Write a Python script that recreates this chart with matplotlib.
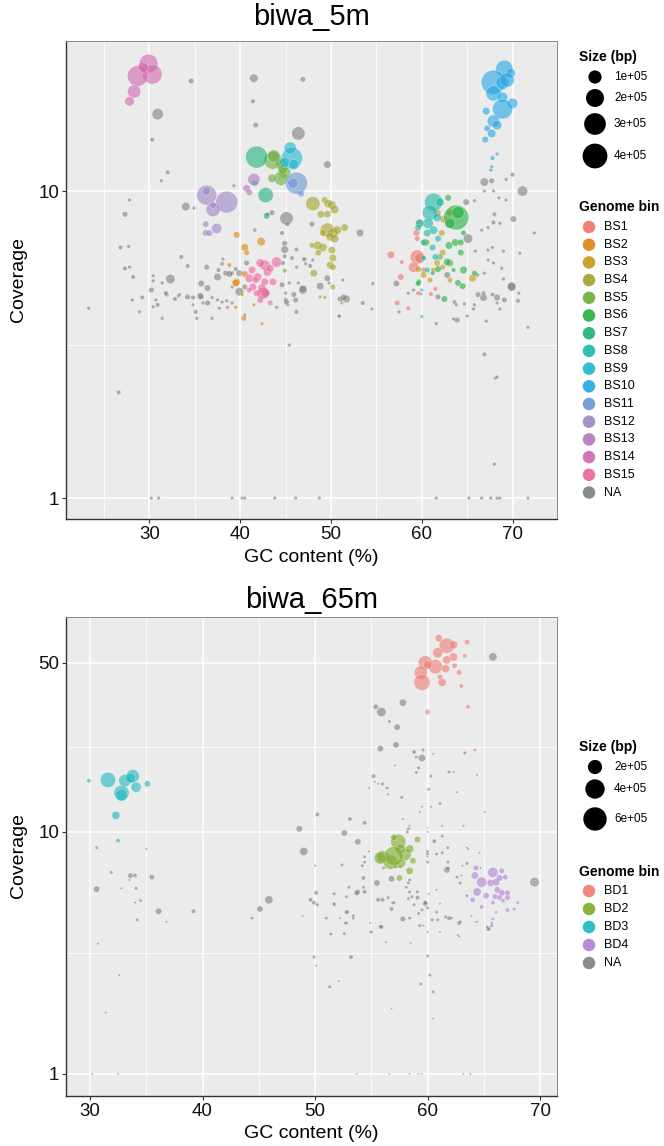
import matplotlib
matplotlib.use("Agg")
import matplotlib.pyplot as plt
import numpy as np
from matplotlib.ticker import FixedLocator, NullFormatter

plt.rcParams['font.family'] = ['Liberation Sans', 'DejaVu Sans']

# ---------------- DATA: biwa_5m  (gc %, coverage, size in kbp) ----------------
top_bins = ["BS1", "BS2", "BS3", "BS4", "BS5", "BS6", "BS7", "BS8", "BS9", "BS10",
            "BS11", "BS12", "BS13", "BS14", "BS15", "NA"]
top_colors = ["#EB7468", "#DE8410", "#C49A14", "#A3A22C", "#6AAC3A", "#22AF3F", "#1DB37B",
              "#1BB8A8", "#1DB6CE", "#22A6E4", "#6A95D4", "#9E85C6", "#B377B8", "#D067AE",
              "#EC649C", "#7F7F7F"]

BS1 = [(59.5, 6.1, 117), (59.8, 6.05, 56), (59.1, 5.65, 56), (56.6, 6.2, 25), (57.8, 5.87, 6),
       (57.7, 5.25, 17), (57.3, 4.32, 11), (58.5, 4.15, 6), (59.6, 4.65, 6), (61.5, 4.8, 6),
       (61.0, 4.62, 6), (59.4, 7.3, 17), (59.5, 7.0, 11), (60.2, 5.53, 11)]
BS2 = [(39.6, 7.2, 17), (40.5, 6.55, 25), (42.3, 6.85, 34), (40.7, 6.3, 11), (38.8, 5.74, 6),
       (39.6, 5.06, 25), (40.5, 5.37, 17), (40.2, 4.6, 3), (39.5, 4.18, 3), (41.5, 4.26, 3),
       (40.4, 3.85, 11), (42.4, 3.7, 3), (39.5, 5.02, 25)]
BS3 = [(61.7, 8.5, 25), (62.4, 8.1, 25), (62.2, 7.3, 17), (63.1, 8.5, 17), (60.6, 6.8, 11),
       (62.3, 6.3, 17), (61.7, 5.83, 17), (62.3, 5.65, 11), (61.3, 5.53, 11), (60.2, 5.33, 17),
       (59.6, 5.57, 17), (65.6, 5.2, 25), (59.7, 7.85, 25), (63.1, 5.13, 11), (60.9, 5.13, 11)]
BS4 = [(48.0, 9.1, 117), (49.3, 9.35, 17), (49.7, 9.1, 34), (50.1, 9.0, 34), (50.4, 8.7, 34),
       (49.6, 8.4, 25), (48.9, 8.4, 25), (49.6, 7.46, 117), (50.2, 7.3, 56), (50.7, 7.46, 34),
       (51.5, 7.6, 25), (49.1, 7.3, 17), (49.9, 7.1, 34), (50.4, 7.0, 34), (48.5, 6.65, 34),
       (49.1, 6.55, 34), (50.1, 6.42, 25), (48.6, 6.3, 17), (47.9, 6.65, 11), (50.2, 6.05, 25),
       (49.9, 5.74, 25), (50.2, 5.65, 17), (48.1, 5.4, 25), (48.8, 4.52, 3), (49.3, 4.5, 3),
       (50.2, 4.87, 11), (51.2, 4.32, 3)]
BS5 = [(43.6, 12.6, 200), (44.9, 11.5, 84), (44.5, 11.0, 117), (43.5, 11.0, 34), (44.4, 12.3, 56),
       (44.7, 11.8, 56), (43.7, 13.0, 84), (44.9, 5.5, 6), (60.4, 6.8, 25), (63.1, 5.83, 25),
       (62.0, 6.1, 17)]
BS6 = [(63.8, 8.2, 400), (64.0, 8.5, 84), (63.1, 7.85, 56), (63.0, 6.65, 25), (63.7, 6.8, 25),
       (64.3, 6.8, 17), (64.3, 6.3, 17), (64.6, 7.3, 11), (62.9, 9.5, 17), (64.6, 5.53, 25),
       (64.0, 5.02, 17), (64.5, 4.9, 17), (62.8, 5.87, 25), (63.5, 5.53, 6), (62.5, 4.45, 17),
       (61.2, 5.4, 6), (59.7, 5.06, 11), (61.8, 5.57, 17), (65.8, 5.4, 11), (59.6, 5.0, 11)]
BS7 = [(41.8, 12.9, 306), (42.8, 9.7, 136), (42.9, 8.3, 17)]
BS8 = [(61.3, 9.2, 200), (62.0, 9.2, 34), (60.9, 8.5, 136), (61.7, 8.2, 34), (60.7, 7.85, 56),
       (59.8, 7.85, 34), (61.3, 7.46, 34), (60.6, 7.3, 25), (61.8, 7.0, 17), (61.2, 6.55, 17),
       (61.5, 6.1, 17), (60.2, 6.05, 11), (60.6, 5.53, 11), (59.6, 7.6, 17), (60.2, 6.8, 17),
       (41.6, 10.6, 17)]
BS9 = [(45.7, 12.8, 278), (45.5, 13.8, 84), (44.9, 12.4, 56), (45.9, 12.2, 56),
       (60.0, 4.76, 3), (60.0, 3.9, 3)]
BS10 = [(69.1, 25.0, 178), (67.9, 22.6, 380), (68.9, 22.5, 100), (67.9, 20.8, 136), (68.9, 20.2, 56),
        (70.0, 19.3, 56), (68.9, 18.5, 250), (67.9, 16.9, 84), (68.3, 16.4, 44), (67.1, 18.2, 25),
        (67.2, 16.0, 17), (67.7, 15.4, 34), (67.0, 14.7, 17), (67.8, 12.8, 6), (68.3, 13.2, 3),
        (67.7, 12.0, 3), (69.8, 24.2, 44), (69.4, 23.0, 120)]
BS11 = [(46.2, 10.6, 306), (45.8, 10.6, 56), (46.7, 9.8, 17)]
BS12 = [(36.3, 9.7, 250), (38.5, 9.2, 306), (36.3, 10.0, 34), (37.0, 8.7, 117), (37.0, 9.0, 17),
        (36.2, 7.8, 17), (37.4, 7.55, 56), (36.2, 7.3, 17), (36.6, 7.3, 17)]
BS13 = [(41.5, 10.9, 84), (40.7, 10.2, 25), (41.0, 9.9, 17), (41.6, 7.46, 6), (38.0, 5.8, 6)]
BS14 = [(29.9, 26.0, 220), (30.3, 24.0, 240), (28.7, 23.7, 270), (29.3, 25.3, 56),
        (28.3, 21.1, 100), (27.8, 19.6, 45)]
BS15 = [(42.7, 5.74, 56), (42.2, 5.83, 34), (43.0, 5.45, 34), (44.0, 5.87, 56), (41.3, 5.53, 25),
        (41.0, 5.2, 34), (41.9, 5.25, 34), (42.7, 5.06, 25), (41.4, 4.87, 25), (42.4, 4.83, 34),
        (42.8, 4.65, 34), (41.8, 4.65, 17), (43.6, 5.06, 25), (43.3, 4.32, 11), (42.2, 4.42, 17),
        (41.0, 4.76, 11), (42.5, 4.65, 84), (41.7, 5.13, 17), (43.3, 5.6, 25)]
NA_top = [(34.6, 22.8, 11), (41.5, 23.3, 34), (46.9, 23.1, 11), (41.4, 19.6, 6), (30.9, 17.8, 69),
          (41.7, 16.4, 11), (46.4, 15.4, 100), (30.3, 14.7, 6), (49.6, 12.2, 25), (32.0, 11.5, 6),
          (31.3, 10.8, 3), (39.3, 10.4, 3), (34.0, 8.9, 34), (27.8, 9.35, 3), (27.3, 8.4, 11),
          (34.9, 8.8, 3), (45.1, 8.15, 100), (45.2, 7.8, 6), (43.0, 8.4, 6), (53.2, 7.3, 25),
          (26.8, 6.55, 6), (27.7, 6.6, 3), (27.3, 5.6, 6), (27.8, 5.65, 3), (28.2, 5.25, 6),
          (30.4, 5.3, 3), (30.4, 5.1, 3), (32.3, 5.17, 44), (33.5, 6.1, 6), (34.2, 5.7, 6),
          (36.3, 5.65, 11), (38.1, 6.0, 3), (38.4, 5.4, 11), (39.1, 5.4, 6), (37.5, 5.25, 25),
          (44.9, 6.75, 11), (44.9, 6.45, 25), (46.2, 6.45, 6), (44.7, 5.83, 6), (47.1, 6.0, 6),
          (47.7, 5.7, 6), (49.6, 5.2, 17), (51.3, 5.13, 3), (54.6, 5.0, 3), (66.9, 10.7, 34),
          (67.7, 10.8, 11), (67.6, 11.7, 3), (67.9, 10.0, 3), (69.3, 10.9, 3), (70.0, 11.3, 6),
          (71.1, 10.0, 56), (66.9, 10.0, 3), (64.9, 9.2, 17), (65.8, 9.3, 3), (68.5, 9.5, 3),
          (69.3, 9.35, 3), (68.0, 8.4, 6), (70.1, 8.1, 17), (67.9, 7.9, 6), (68.6, 7.85, 3),
          (66.6, 7.46, 3), (67.3, 7.6, 3), (72.4, 7.3, 3), (65.1, 7.0, 44), (67.3, 6.42, 3),
          (67.8, 6.55, 3), (69.0, 6.37, 3), (70.8, 6.27, 3), (65.9, 6.37, 3), (67.3, 5.96, 3),
          (67.9, 5.83, 3), (66.9, 5.4, 3), (68.8, 5.6, 3), (69.0, 5.17, 3), (69.9, 4.9, 34),
          (62.8, 5.33, 17), (66.1, 5.33, 6), (23.3, 4.15, 3), (28.1, 4.42, 3), (29.2, 4.5, 6),
          (28.9, 4.04, 3), (30.2, 4.76, 11), (30.4, 4.2, 3), (30.9, 4.26, 6), (30.7, 4.42, 3),
          (31.4, 3.85, 3), (31.9, 4.6, 6), (32.8, 4.45, 6), (33.2, 4.55, 3), (34.8, 4.5, 6),
          (34.8, 4.26, 3), (35.1, 4.04, 6), (35.7, 4.52, 11), (36.4, 4.32, 11), (36.9, 3.85, 3),
          (37.5, 4.42, 3), (37.7, 4.15, 3), (38.5, 4.39, 3), (38.6, 4.18, 3), (39.9, 4.7, 34),
          (40.5, 3.95, 3), (45.0, 4.42, 6), (45.2, 4.26, 3), (46.2, 4.04, 6), (46.1, 4.42, 11),
          (46.9, 4.76, 34), (48.8, 4.9, 25), (50.9, 3.9, 3), (51.0, 4.45, 11), (51.7, 4.45, 25),
          (53.5, 4.32, 6), (54.5, 4.13, 3), (57.2, 5.0, 17), (57.5, 4.04, 3), (58.5, 4.65, 3),
          (59.1, 4.76, 3), (59.9, 4.62, 3), (61.6, 3.7, 3), (61.8, 4.52, 11), (63.5, 3.83, 3),
          (63.9, 3.8, 11), (63.6, 4.35, 6), (63.8, 4.26, 3), (65.0, 3.92, 3), (64.7, 4.29, 3),
          (65.7, 4.13, 3), (65.8, 4.26, 3), (66.2, 4.6, 11), (66.8, 4.5, 25), (67.1, 3.77, 3),
          (66.8, 4.65, 6), (67.8, 4.6, 6), (68.3, 4.5, 17), (68.3, 4.32, 3), (68.6, 4.13, 3),
          (69.1, 4.42, 11), (69.9, 4.87, 34), (70.6, 4.39, 6), (70.7, 4.65, 3), (71.7, 3.6, 3),
          (45.4, 3.15, 3), (66.9, 2.94, 6), (68.1, 2.46, 3), (68.3, 2.48, 3), (26.6, 2.21, 6),
          (68.0, 1.29, 3), (43.5, 8.5, 11), (47.9, 7.8, 11), (37.6, 5.53, 6), (38.8, 5.37, 17),
          (39.9, 5.4, 17), (39.5, 5.57, 6), (40.7, 5.83, 11), (45.7, 6.05, 6), (47.0, 6.0, 3),
          (47.2, 5.8, 3), (46.2, 5.65, 3), (44.9, 6.13, 6), (44.6, 7.3, 6), (48.0, 5.96, 3),
          (49.8, 5.02, 3), (46.9, 4.8, 25), (46.4, 5.02, 3), (45.4, 5.02, 3), (44.6, 4.95, 11),
          (45.0, 4.65, 3), (45.9, 4.6, 11), (45.1, 4.35, 11), (44.0, 4.18, 3), (43.0, 4.65, 11),
          (40.5, 4.87, 11), (39.1, 4.87, 3), (35.7, 5.0, 17), (36.4, 4.83, 17), (34.2, 4.52, 11),
          (35.6, 4.55, 17), (35.9, 4.32, 3), (36.9, 4.5, 3), (38.0, 4.35, 3), (39.1, 4.32, 3),
          (31.4, 5.02, 3), (31.8, 4.65, 6), (33.3, 4.6, 3), (35.2, 3.85, 3), (51.4, 4.5, 17),
          (50.9, 3.92, 3),
          (30.2, 1.0, 3), (31.0, 1.0, 3), (39.1, 1.0, 3), (40.2, 1.0, 3), (40.5, 1.0, 3),
          (43.8, 1.0, 3), (46.1, 1.0, 3), (48.7, 1.0, 3), (61.6, 1.0, 3), (65.2, 1.0, 3),
          (66.6, 1.0, 3), (67.6, 1.0, 3), (68.3, 1.0, 3), (68.6, 1.0, 3), (71.7, 1.0, 3)]
top_points = [BS1, BS2, BS3, BS4, BS5, BS6, BS7, BS8, BS9, BS10, BS11, BS12, BS13, BS14, BS15, NA_top]
top_size_breaks = [100, 200, 300, 400]
top_size_labels = ["1e+05", "2e+05", "3e+05", "4e+05"]

# ---------------- DATA: biwa_65m ----------------
bot_bins = ["BD1", "BD2", "BD3", "BD4", "NA"]
bot_colors = ["#EE7B72", "#7CAA2A", "#1BB8BE", "#B07FD6", "#7F7F7F"]

BD1 = [(61.0, 63.2, 40), (61.7, 58.8, 232), (62.3, 59.3, 55), (63.5, 60.9, 17), (60.9, 55.0, 93),
       (62.3, 52.9, 55), (63.3, 53.4, 9), (59.8, 50.0, 199), (60.7, 48.2, 199), (61.7, 51.4, 55),
       (60.0, 49.0, 55), (61.6, 47.3, 55), (62.4, 48.6, 17), (59.4, 45.6, 169), (59.5, 41.5, 267),
       (61.1, 43.7, 17), (61.3, 41.5, 55), (62.8, 45.6, 17), (63.0, 40.1, 9), (60.0, 31.3, 17),
       (63.6, 32.9, 9), (64.2, 21.8, 3.6), (60.0, 10.4, 0.6)]
BD2 = [(57.4, 9.1, 232), (56.0, 7.9, 141), (56.7, 7.5, 199), (58.0, 8.05, 141), (58.4, 8.5, 55),
       (57.6, 8.5, 93), (57.7, 7.45, 55), (59.1, 9.3, 27), (57.0, 9.5, 27), (58.7, 7.6, 27),
       (58.4, 6.9, 40), (57.5, 6.45, 27), (57.3, 7.3, 27), (57.6, 7.2, 9), (57.1, 7.2, 9),
       (57.0, 7.95, 380), (55.8, 7.8, 141)]
BD3 = [(31.6, 16.4, 232), (33.1, 16.3, 141), (33.8, 17.0, 169), (33.6, 16.7, 93), (34.1, 15.3, 93),
       (32.8, 14.5, 232), (32.8, 14.2, 141), (29.9, 16.3, 9), (35.1, 15.8, 27), (32.3, 11.7, 55),
       (32.5, 9.2, 9)]
BD4 = [(65.8, 6.8, 93), (64.8, 6.2, 93), (64.2, 6.6, 40), (64.3, 7.1, 17), (64.4, 5.65, 55),
       (65.2, 5.45, 27), (65.6, 6.15, 40), (66.1, 6.2, 40), (66.4, 6.45, 27), (66.6, 6.9, 17),
       (66.9, 6.5, 17), (66.2, 5.76, 27), (66.6, 5.6, 27), (67.1, 5.6, 17), (67.1, 5.35, 17),
       (66.0, 5.4, 17), (66.4, 5.35, 17), (64.0, 5.24, 17), (64.8, 4.9, 9), (65.8, 5.1, 9),
       (66.7, 5.2, 9), (68.0, 5.1, 3.6), (67.1, 4.76, 9), (67.7, 4.8, 3.6), (66.1, 4.66, 3.6),
       (65.8, 4.37, 3.6), (65.7, 4.2, 3.6), (64.3, 4.25, 0.6), (65.3, 4.05, 3.6), (69.5, 6.2, 3.6)]
NA_bot = [(65.8, 52.9, 55), (55.4, 32.9, 17), (55.9, 31.3, 73), (57.8, 34.2, 40), (56.6, 28.6, 3.6),
          (57.3, 27.1, 27), (55.8, 22.1, 27), (57.2, 22.9, 27), (58.8, 21.4, 9), (59.6, 21.8, 3.6),
          (59.5, 20.2, 40), (59.0, 20.4, 3.6), (60.5, 21.0, 0.6), (59.2, 18.4, 3.6), (59.0, 17.6, 3.6),
          (57.1, 18.8, 0.6), (55.2, 17.0, 9), (55.3, 16.1, 0.6), (55.6, 15.8, 0.6), (56.0, 15.8, 3.6),
          (56.4, 15.2, 3.6), (54.8, 15.2, 0.6), (56.5, 14.3, 0.6), (57.7, 13.9, 3.6), (60.1, 15.0, 3.6),
          (60.3, 17.0, 3.6), (61.9, 17.7, 3.6), (62.3, 17.7, 0.6), (63.3, 21.2, 3.6), (64.4, 17.2, 0.6),
          (62.6, 14.6, 0.6), (61.1, 13.1, 3.6), (59.5, 12.7, 0.6), (59.3, 12.1, 0.6), (60.3, 12.7, 0.6),
          (57.8, 11.3, 0.6), (58.4, 10.6, 0.6), (58.3, 10.3, 3.6), (58.2, 10.0, 3.6), (65.1, 12.1, 0.6),
          (63.2, 10.6, 0.6), (61.3, 10.6, 0.6), (60.0, 10.0, 0.6), (50.2, 11.8, 9), (53.1, 11.3, 9),
          (54.4, 10.9, 9), (48.6, 10.3, 27), (52.6, 9.9, 27), (53.8, 9.1, 27), (49.0, 8.3, 55),
          (30.6, 8.6, 3.6), (35.0, 8.5, 0.6), (60.6, 9.15, 9), (61.8, 8.6, 3.6), (63.6, 8.5, 0.6),
          (64.6, 8.2, 0.6), (61.3, 9.6, 3.6), (60.0, 8.3, 3.6), (60.0, 7.9, 0.6), (52.4, 7.3, 3.6),
          (54.3, 6.45, 9), (55.5, 6.15, 27), (56.8, 6.4, 27), (54.4, 7.9, 3.6), (54.4, 7.5, 3.6),
          (54.8, 8.3, 0.6), (51.7, 5.55, 3.6), (52.8, 5.4, 3.6), (53.8, 5.65, 17), (54.3, 5.9, 3.6),
          (55.6, 5.24, 9), (56.0, 5.24, 9), (56.5, 5.35, 3.6), (56.9, 5.1, 3.6), (56.8, 4.8, 9),
          (58.6, 5.4, 3.6), (59.1, 5.65, 3.6), (59.1, 5.35, 9), (59.8, 5.05, 17), (60.0, 4.85, 3.6),
          (58.1, 5.9, 3.6), (58.3, 6.15, 3.6), (58.4, 6.33, 3.6), (60.1, 5.55, 0.6), (60.8, 5.76, 0.6),
          (61.7, 6.97, 27), (62.6, 6.5, 3.6), (62.9, 6.15, 3.6), (63.5, 5.45, 3.6), (60.0, 8.1, 3.6),
          (60.0, 7.5, 3.6), (60.8, 8.1, 3.6), (61.3, 8.2, 3.6), (61.8, 7.5, 3.6), (63.5, 7.4, 3.6),
          (63.1, 7.25, 0.6), (63.5, 8.6, 0.6), (64.7, 7.1, 0.6), (62.8, 4.2, 9), (61.9, 4.4, 9),
          (61.6, 4.45, 3.6), (60.9, 4.33, 3.6), (60.4, 4.33, 3.6), (60.8, 4.66, 3.6), (59.3, 4.1, 3.6),
          (58.4, 4.4, 3.6), (57.8, 4.37, 17), (51.7, 5.0, 3.6), (52.9, 4.66, 3.6), (53.4, 4.4, 3.6),
          (52.2, 4.4, 0.6), (52.7, 4.2, 3.6), (54.9, 4.2, 0.6), (55.8, 4.05, 9), (54.9, 3.86, 0.6),
          (59.6, 4.1, 0.6), (61.1, 3.86, 0.6), (62.8, 3.7, 0.6), (65.4, 4.0, 9), (50.0, 7.25, 0.6),
          (54.2, 7.25, 3.6), (56.1, 7.1, 3.6), (31.9, 6.8, 3.6), (33.6, 6.6, 17), (34.0, 6.6, 9),
          (33.5, 6.33, 0.6), (35.5, 6.5, 17), (30.6, 5.8, 27), (32.8, 5.85, 0.6), (34.1, 5.85, 3.6),
          (34.0, 5.1, 0.6), (34.5, 5.2, 3.6), (36.1, 4.7, 27), (34.2, 4.33, 3.6), (36.8, 4.25, 0.6),
          (39.2, 4.7, 9), (30.7, 3.45, 0.6), (32.6, 2.56, 0.6), (31.4, 1.79, 0.6), (44.4, 4.4, 3.6),
          (45.1, 4.8, 27), (45.9, 5.24, 55), (48.9, 4.5, 0.6), (49.6, 5.24, 9), (50.1, 5.6, 9),
          (49.9, 5.1, 9), (50.2, 5.0, 3.6), (51.0, 4.4, 3.6), (51.7, 5.05, 3.6), (51.4, 3.78, 3.6),
          (52.6, 3.8, 3.6), (52.8, 4.2, 3.6), (52.8, 4.66, 9), (53.0, 5.9, 3.6), (53.4, 4.5, 3.6),
          (53.7, 5.6, 17), (54.4, 5.65, 9), (55.0, 3.86, 3.6), (55.9, 4.05, 9), (57.0, 5.1, 3.6),
          (58.3, 5.3, 3.6), (58.5, 3.47, 0.6), (59.8, 5.1, 9), (60.0, 3.86, 0.6), (60.0, 3.07, 3.6),
          (60.2, 2.56, 3.6), (59.4, 2.35, 3.6), (60.5, 2.18, 3.6), (60.5, 1.69, 0.6), (62.1, 4.4, 3.6),
          (62.9, 4.25, 3.6), (62.7, 3.75, 0.6), (58.8, 5.0, 3.6), (59.2, 4.6, 3.6), (59.5, 4.76, 3.6),
          (61.1, 5.05, 0.6), (56.3, 3.5, 0.6), (58.4, 5.65, 3.6), (61.8, 7.05, 9), (63.0, 6.6, 0.6),
          (49.9, 3.04, 3.6), (50.1, 2.8, 0.6), (53.2, 3.04, 9), (52.1, 2.42, 0.6), (51.3, 2.29, 3.6),
          (56.8, 1.86, 0.3), (63.9, 4.5, 0.6), (64.4, 4.25, 0.6), (65.4, 3.97, 9), (65.7, 4.1, 3.6),
          (69.5, 6.2, 73),
          (30.2, 1.0, 0.3), (32.5, 1.0, 0.3), (53.7, 1.0, 0.3), (56.6, 1.0, 0.3), (58.4, 1.0, 0.3),
          (59.2, 1.0, 0.3), (59.5, 1.0, 0.3), (63.2, 1.0, 0.3), (63.8, 1.0, 0.3)]
bot_points = [BD1, BD2, BD3, BD4, NA_bot]
bot_size_breaks = [200, 400, 600]
bot_size_labels = ["2e+05", "4e+05", "6e+05"]

# ---------------- FIGURE ----------------
W, H = 664, 1146
fig = plt.figure(figsize=(W / 100, H / 100), dpi=100)
fig.patch.set_facecolor("white")


def pts2(d_px):
    return (d_px * 0.72) ** 2


def diam_top(kb):
    return 1.6 + 11.6 * np.sqrt(np.asarray(kb, float) / 100.0)


def diam_bot(kb):
    return 1.6 + 8.9 * np.sqrt(np.asarray(kb, float) / 100.0)


def frac(x0, y0, x1, y1):
    return [x0 / W, 1 - y1 / H, (x1 - x0) / W, (y1 - y0) / H]


def setup(ax, xlim, ylim, xmaj, xmin, ymaj, ylab, ymin):
    ax.set_facecolor("#EBEBEB")
    ax.set_yscale("log")
    ax.set_xlim(*xlim)
    ax.set_ylim(*ylim)
    ax.xaxis.set_major_locator(FixedLocator(xmaj))
    ax.xaxis.set_minor_locator(FixedLocator(xmin))
    ax.set_xticklabels([str(v) for v in xmaj])
    ax.yaxis.set_major_locator(FixedLocator(ymaj))
    ax.yaxis.set_minor_locator(FixedLocator(ymin))
    ax.set_yticklabels(ylab)
    ax.yaxis.set_minor_formatter(NullFormatter())
    ax.grid(which="major", color="white", lw=1.1)
    ax.grid(which="minor", color="white", lw=0.55)
    ax.set_axisbelow(True)
    ax.tick_params(which="minor", length=0)
    ax.tick_params(which="major", length=3, width=0.8, color="#333333",
                   labelsize=13.5, labelcolor="#111111", pad=2)
    for s in ["left", "bottom"]:
        ax.spines[s].set_color("#333333")
        ax.spines[s].set_linewidth(1.0)
    for s in ["top", "right"]:
        ax.spines[s].set_color("#8a8a8a")
        ax.spines[s].set_linewidth(0.7)


def draw_points(ax, groups, colors, dfun):
    # NA first, then the bins
    order = [len(groups) - 1] + list(range(len(groups) - 1))
    for i in order:
        pts = groups[i]
        gc = [p[0] for p in pts]
        cov = [p[1] for p in pts]
        sz = pts2(dfun([p[2] for p in pts]))
        ax.scatter(gc, cov, s=sz, c=colors[i], alpha=0.6, edgecolors="white",
                   linewidths=0.3, zorder=3)


ax1 = fig.add_axes(frac(66, 41, 557, 519))
setup(ax1, (20.8, 74.9), (0.855, 30.8), [30, 40, 50, 60, 70], [25, 35, 45, 55, 65],
      [1, 10], ["1", "10"], [10 ** 0.5])
draw_points(ax1, top_points, top_colors, diam_top)

ax2 = fig.add_axes(frac(66, 617, 557, 1096))
setup(ax2, (27.87, 71.5), (0.81, 77.3), [30, 40, 50, 60, 70], [35, 45, 55, 65],
      [1, 10, 50], ["1", "10", "50"], [10 ** 0.5, 10 ** 1.3495])
draw_points(ax2, bot_points, bot_colors, diam_bot)

# overlay in pixel coordinates for titles, labels and legends
lax = fig.add_axes([0, 0, 1, 1], zorder=5)
lax.set_xlim(0, W)
lax.set_ylim(H, 0)
lax.axis("off")

for ycen, title in [(17, "biwa_5m"), (600, "biwa_65m")]:
    lax.text(311.5, ycen, title, ha="center", va="center", fontsize=21, color="black")
for ycen in [557, 1133]:
    lax.text(311.5, ycen, "GC content (%)", ha="center", va="center", fontsize=14, color="black")
for ycen in [280, 856]:
    lax.text(19, ycen, "Coverage", ha="center", va="center", rotation=90, fontsize=14, color="black")


def legend(x_title, y_size_title, size_ys, size_breaks, size_labels, dfun,
           y_bin_title, bin_y0, bin_dy, bins, colors):
    lax.text(x_title, y_size_title, "Size (bp)", ha="left", va="center", fontsize=10,
             fontweight="bold")
    for y, b, lab in zip(size_ys, size_breaks, size_labels):
        lax.scatter([595], [y], s=pts2(dfun(b)), c="black", edgecolors="none")
        lax.text(614, y, lab, ha="left", va="center", fontsize=8.5)
    lax.text(x_title, y_bin_title, "Genome bin", ha="left", va="center", fontsize=10,
             fontweight="bold")
    for i, (b, c) in enumerate(zip(bins, colors)):
        y = bin_y0 + i * bin_dy
        lax.scatter([589], [y], s=pts2(12.5), c=c, alpha=0.9, edgecolors="none")
        lax.text(604, y, b, ha="left", va="center", fontsize=9)


legend(579, 57, [77, 98, 124, 156], top_size_breaks, top_size_labels, diam_top,
       207, 227, 17.7, top_bins, top_colors)
legend(579, 747, [767, 789, 819], bot_size_breaks, bot_size_labels, diam_bot,
       872, 891, 18, bot_bins, bot_colors)

fig.savefig("out.png", dpi=100, facecolor="white")
